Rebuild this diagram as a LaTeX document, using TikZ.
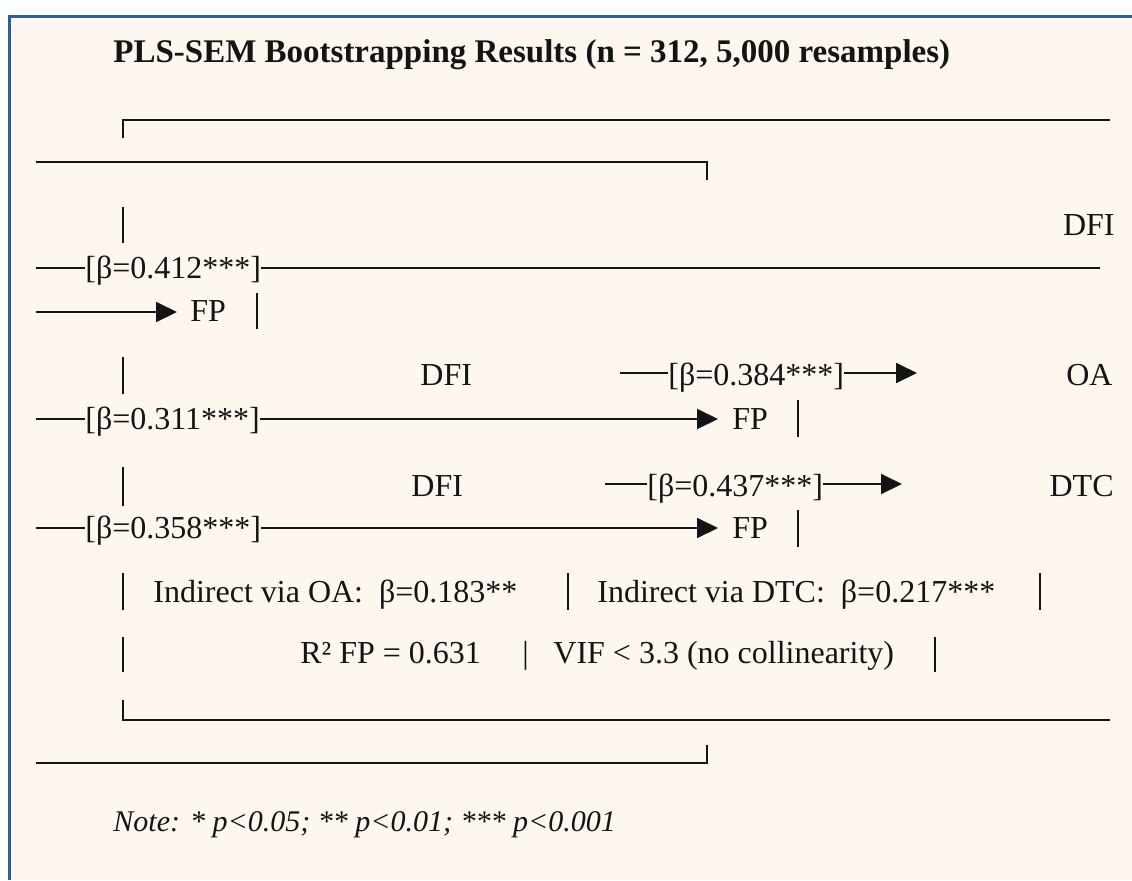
\documentclass[tikz,border=0pt]{standalone}
\usepackage{fontspec}
\setmainfont{Liberation Serif}
\usetikzlibrary{arrows.meta}
\definecolor{panelcream}{HTML}{FDF7F0}
\definecolor{panelblue}{HTML}{2A5EA6}
\definecolor{inkdark}{HTML}{141414}

\begin{document}
\begin{tikzpicture}[x=0.5pt,y=-0.5pt,
  txt/.style={inner sep=0pt,anchor=base west,text=inkdark,font=\fontsize{16}{19}\selectfont},
  rule/.style={draw=inkdark,line width=1pt},
  tip/.style={-{Triangle[length=10.5pt,width=10pt]}}]
\useasboundingbox (0,0) rectangle (1132,880);
\fill[white] (0,0) rectangle (1132,880);
\fill[panelcream] (8,15) rectangle (1132,880);
\draw[panelblue,line width=1.5pt] (9.5,880) -- (9.5,16) -- (1132,16);
% title
\node[txt,font=\fontsize{16.5}{20}\selectfont\bfseries] (title) at (113,62) {PLS-SEM Bootstrapping Results (n = 312, 5,000 resamples)};
% top frame
\coordinate (topA) at (123,138);
\coordinate (topB) at (1110,120);
\draw[rule] (topA) |- (topB);
\coordinate (topC) at (36,162);
\coordinate (topD) at (707,180);
\draw[rule] (topC) -| (topD);
% DFI -> FP
\draw[rule] (123,207) -- (123,243);
\node[txt,anchor=base east] (dfiA) at (1115,235) {DFI};
\coordinate (dirS) at (36,268);
\coordinate (dirE) at (1100,268);
\node[txt] (betaA) at (85,278) {[β=0.412***]};
\draw[rule] (dirS) -- (dirS -| betaA.west);
\draw[rule] (betaA.east |- dirS) -- (dirE);
\coordinate (dirW) at (36,312);
\node[txt] (fpA) at (190,321) {FP};
\draw[rule,tip] (dirW) -- ([xshift=-6.5pt]fpA.west |- dirW);
\draw[rule] (257,293) -- (257,329);
% DFI -> OA -> FP
\draw[rule] (123,357) -- (123,394);
\node[txt] (dfiB) at (420,385) {DFI};
\coordinate (oaS) at (620,373);
\coordinate (oaE) at (917,373);
\node[txt] (betaB) at (668,385) {[β=0.384***]};
\draw[rule] (oaS) -- (oaS -| betaB.west);
\draw[rule,tip] (betaB.east |- oaS) -- (oaE);
\node[txt,anchor=base east] (oa) at (1113,385) {OA};
\coordinate (oaW) at (36,419);
\node[txt] (betaC) at (85,429) {[β=0.311***]};
\node[txt] (fpB) at (732,429) {FP};
\draw[rule] (oaW) -- (oaW -| betaC.west);
\draw[rule,tip] (betaC.east |- oaW) -- ([xshift=-7pt]fpB.west |- oaW);
\draw[rule] (798,400) -- (798,437);
% DFI -> DTC -> FP
\draw[rule] (123,467) -- (123,506);
\node[txt] (dfiC) at (411,496) {DFI};
\coordinate (dtcS) at (605,484);
\coordinate (dtcE) at (902,484);
\node[txt] (betaD) at (647,496) {[β=0.437***]};
\draw[rule] (dtcS) -- (dtcS -| betaD.west);
\draw[rule,tip] (betaD.east |- dtcS) -- (dtcE);
\node[txt,anchor=base east] (dtc) at (1114,496) {DTC};
\coordinate (dtcW) at (36,528);
\node[txt] (betaE) at (85,538) {[β=0.358***]};
\node[txt] (fpC) at (732,538) {FP};
\draw[rule] (dtcW) -- (dtcW -| betaE.west);
\draw[rule,tip] (betaE.east |- dtcW) -- ([xshift=-7pt]fpC.west |- dtcW);
\draw[rule] (798,510) -- (798,547);
% indirect effects
\draw[rule] (123,573) -- (123,610);
\node[txt] (indOA) at (153,602) {Indirect via OA:~~β=0.183**};
\draw[rule] (568,573) -- (568,610);
\node[txt] (indDTC) at (597,602) {Indirect via DTC:~~β=0.217***};
\draw[rule] (1040,573) -- (1040,610);
% fit
\draw[rule] (123,637) -- (123,672);
\node[txt] (rsq) at (300,663) {R² FP = 0.631};
\node[txt] (sep) at (522,663) {|};
\node[txt] (vif) at (553,663) {VIF < 3.3 (no collinearity)};
\draw[rule] (935,637) -- (935,672);
% bottom frame
\coordinate (botA) at (123,700);
\coordinate (botB) at (1110,720);
\draw[rule] (botA) |- (botB);
\coordinate (botC) at (36,763);
\coordinate (botD) at (707,745);
\draw[rule] (botC) -| (botD);
% note
\node[txt,font=\fontsize{15}{18}\selectfont\itshape] (note) at (113,831) {Note: * p<0.05; ** p<0.01; *** p<0.001};
\end{tikzpicture}
\end{document}
